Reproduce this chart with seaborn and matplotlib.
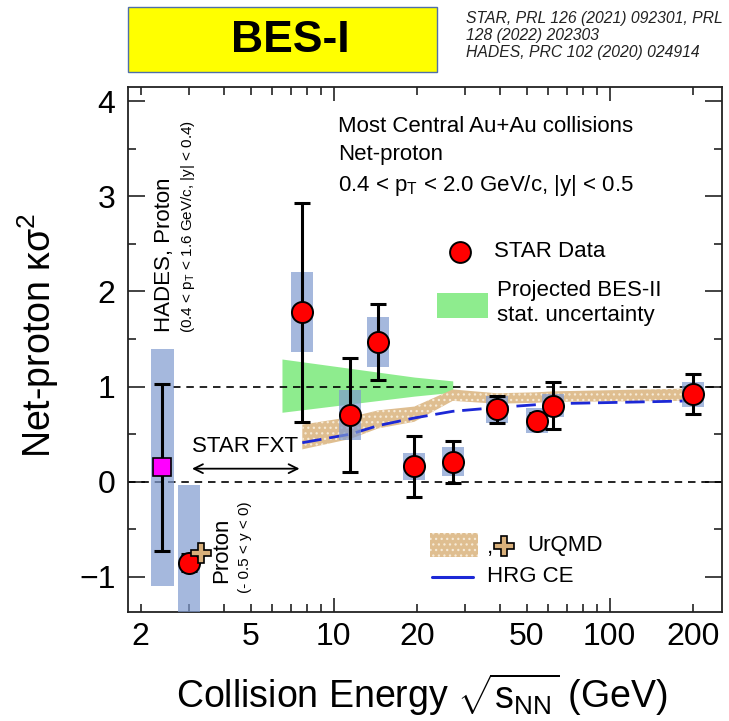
import numpy as np
import pandas as pd
import matplotlib
matplotlib.use("Agg")
import matplotlib.pyplot as plt
import matplotlib.ticker as mticker
from matplotlib.patches import Rectangle
from matplotlib.lines import Line2D
import seaborn as sns

# ---------------- data ----------------
star_energy = [3.0, 7.7, 11.5, 14.5, 19.6, 27.0, 39.0, 54.4, 62.4, 200.0]
star_kappa = [-0.85, 1.78, 0.70, 1.47, 0.16, 0.21, 0.76, 0.64, 0.80, 0.92]
star_stat = [0.09, 1.15, 0.60, 0.40, 0.32, 0.22, 0.14, 0.08, 0.25, 0.21]
star_sys = [0.82, 0.42, 0.26, 0.26, 0.14, 0.15, 0.14, 0.13, 0.12, 0.13]

hades_energy = [2.4]
hades_kappa = [0.15]
hades_stat = [0.88]
hades_sys = [1.25]

urqmd_fxt_energy = [3.3]
urqmd_fxt_kappa = [-0.75]

model_energy = [7.7, 11.5, 14.5, 19.6, 27.0, 39.0, 54.4, 62.4, 200.0]
urqmd_low = [0.34, 0.45, 0.56, 0.63, 0.85, 0.82, 0.83, 0.84, 0.85]
urqmd_high = [0.60, 0.68, 0.75, 0.79, 0.97, 0.93, 0.94, 0.95, 0.98]
hrg_ce = [0.41, 0.50, 0.59, 0.67, 0.74, 0.78, 0.81, 0.82, 0.85]

besii_energy = [6.5, 19.6, 27.0]
besii_low = [0.73, 0.90, 0.94]
besii_high = [1.29, 1.10, 1.06]

x_tick_labels = ["2", "5", "10", "20", "50", "100", "200"]
y_ticks = [-1, 0, 1, 2, 3, 4]

# ---------------- style ----------------
sns.set_theme(style="ticks")
plt.rcParams["font.family"] = ["Liberation Sans", "DejaVu Sans"]
plt.rcParams["text.color"] = "black"
plt.rcParams["axes.labelcolor"] = "black"
plt.rcParams["mathtext.fontset"] = "custom"
plt.rcParams["mathtext.rm"] = "Liberation Sans"
plt.rcParams["mathtext.it"] = "Liberation Sans:italic"
plt.rcParams["mathtext.bf"] = "Liberation Sans:bold"
plt.rcParams["hatch.linewidth"] = 0.9

fig = plt.figure(figsize=(7.29, 7.21), dpi=100)
ax = fig.add_axes([128 / 729, 1 - 612 / 721, 594 / 729, 525 / 721])
ax.set_xscale("log")
ax.set_xlim(1.8, 255)
ax.set_ylim(-1.37, 4.15)

box_color = "#7f9acf"
tan = "#dfbe90"
hatch_col = "#f6ead6"
hw = 0.04  # half width of sys boxes in decades

# BES-II projection (green)
ax.fill_between(besii_energy, besii_low, besii_high, color="#8eec8e", lw=0, zorder=1)

# UrQMD band
ax.fill_between(model_energy, urqmd_low, urqmd_high, facecolor=tan,
                edgecolor=hatch_col, hatch="...", lw=0, zorder=1.5)

# reference lines
ax.axhline(0, color="black", lw=1.2, dashes=(4.5, 3.5), zorder=2)
ax.hlines(1, 2.62, 255, color="black", lw=1.2, linestyles=(0, (4.5, 3.5)), zorder=2)

# HRG CE
hrg_df = pd.DataFrame({"energy": model_energy, "kappa": hrg_ce})
sns.lineplot(data=hrg_df, x="energy", y="kappa", ax=ax, color="#1c28d6",
             lw=2.0, dashes=False, zorder=2.5)
ax.lines[-1].set_dashes((7, 2.8))

# systematic boxes
for e, k, s in zip(star_energy + hades_energy, star_kappa + hades_kappa,
                   star_sys + hades_sys):
    x0 = e * 10 ** (-hw)
    x1 = e * 10 ** (hw)
    ax.add_patch(Rectangle((x0, k - s), x1 - x0, 2 * s, facecolor=box_color,
                           alpha=0.7, lw=0, zorder=3))

# stat error bars
ax.errorbar(star_energy, star_kappa, yerr=star_stat, fmt="none", ecolor="black",
            elinewidth=2.2, capsize=5.5, capthick=2.2, zorder=4)
ax.errorbar(hades_energy, hades_kappa, yerr=hades_stat, fmt="none", ecolor="black",
            elinewidth=2.2, capsize=5.5, capthick=2.2, zorder=4)

# markers
star_df = pd.DataFrame({"energy": star_energy, "kappa": star_kappa})
sns.scatterplot(data=star_df, x="energy", y="kappa", ax=ax, s=230, color="#ff0000",
                edgecolor="black", linewidth=1.4, zorder=5, legend=False)
ax.plot(hades_energy, hades_kappa, "s", ms=12.5, mfc="#ff00ff", mec="black", mew=1.2, zorder=5)
ax.plot(urqmd_fxt_energy, urqmd_fxt_kappa, "P", ms=15, mfc="#d9b07a", mec="black", mew=1.2, zorder=5)

# ---------------- axes / ticks ----------------
ax.set_xlabel("")
ax.set_ylabel("")
ax.xaxis.set_major_locator(mticker.FixedLocator([10, 100]))
ax.xaxis.set_minor_locator(mticker.FixedLocator(
    [2, 3, 4, 5, 6, 7, 8, 9, 20, 30, 40, 50, 60, 70, 80, 90, 200]))
lab = {float(t): t for t in x_tick_labels}
ax.xaxis.set_major_formatter(mticker.FuncFormatter(lambda v, p: lab.get(float(v), "")))
ax.xaxis.set_minor_formatter(mticker.FuncFormatter(lambda v, p: lab.get(float(v), "")))
ax.yaxis.set_major_locator(mticker.FixedLocator(y_ticks))
ax.yaxis.set_minor_locator(mticker.MultipleLocator(0.5))
ax.yaxis.set_major_formatter(mticker.FuncFormatter(
    lambda v, p: ("\u2212%d" % abs(v)) if v < 0 else "%d" % v))

ax.tick_params(axis="both", which="both", direction="in", top=True, right=True,
               colors="#222222", width=1.2)
ax.tick_params(axis="y", which="major", length=12, labelsize=23, pad=9, labelcolor="black")
ax.tick_params(axis="y", which="minor", length=6)
ax.tick_params(axis="x", which="major", length=10, labelsize=23, pad=7, labelcolor="black")
ax.tick_params(axis="x", which="minor", length=6, labelsize=23, pad=7, labelcolor="black")
for sp in ax.spines.values():
    sp.set_linewidth(1.3)
    sp.set_color("#222222")

fig.text(422 / 729, 1 - 695 / 721, r"Collision Energy $\sqrt{\mathrm{s}_{\mathrm{NN}}}$ (GeV)",
         ha="center", va="center", fontsize=27)
fig.text(38 / 729, 1 - 335 / 721, "Net-proton \u03ba\u03c3$^{2}$", rotation=90,
         ha="center", va="center", fontsize=27)

# ---------------- annotations ----------------
T = ax.transAxes
ax.text(0.354, 0.924, "Most Central Au+Au collisions", transform=T, fontsize=16,
        ha="left", va="center")
ax.text(0.354, 0.872, "Net-proton", transform=T, fontsize=16, ha="left", va="center")
ax.text(0.354, 0.813, r"0.4 < p$_{\mathrm{T}}$ < 2.0 GeV/c, |y| < 0.5", transform=T,
        fontsize=16, ha="left", va="center")

# legend 1
ax.plot([0.559], [0.686], "o", ms=15, mfc="#ff0000", mec="black", mew=1.4,
        transform=T, clip_on=False, zorder=6)
ax.text(0.616, 0.686, "STAR Data", transform=T, fontsize=16, ha="left", va="center")
ax.add_patch(Rectangle((0.520, 0.560), 0.086, 0.048, transform=T,
                       facecolor="#8eec8e", lw=0, zorder=6))
ax.text(0.621, 0.589, "Projected BES-II\nstat. uncertainty", transform=T, fontsize=16,
        ha="left", va="center", linespacing=1.25)

# legend 2
ax.add_patch(Rectangle((0.508, 0.105), 0.081, 0.045, transform=T, facecolor=tan,
                       edgecolor=hatch_col, hatch="...", lw=0, zorder=6))
ax.text(0.604, 0.122, ",", transform=T, fontsize=16, ha="left", va="center")
ax.plot([0.633], [0.126], "P", ms=15, mfc="#d9b07a", mec="black", mew=1.2,
        transform=T, clip_on=False, zorder=6)
ax.text(0.672, 0.126, "UrQMD", transform=T, fontsize=16, ha="left", va="center")
ax.add_line(Line2D([0.512, 0.581], [0.067, 0.067], transform=T, color="#1c28d6", lw=2.2))
ax.text(0.604, 0.067, "HRG CE", transform=T, fontsize=16, ha="left", va="center")

# FXT arrow
ax.annotate("", xy=(7.7, 0.137), xytext=(3.0, 0.137),
            arrowprops=dict(arrowstyle="<->", color="black", lw=1.3, mutation_scale=16))
ax.text(4.76, 0.37, "STAR FXT", fontsize=16, ha="center", va="center")

# HADES labels
ax.text(0.062, 0.533, "HADES, Proton", transform=T, rotation=90, fontsize=16,
        ha="center", va="bottom")
ax.text(0.101, 0.531, r"(0.4 < p$_{\mathrm{T}}$ < 1.6 GeV/c, |y| < 0.4)", transform=T,
        rotation=90, fontsize=11, ha="center", va="bottom")
ax.text(0.157, 0.055, "Proton", transform=T, rotation=90, fontsize=16,
        ha="center", va="bottom")
ax.text(0.197, 0.036, "(- 0.5 < y < 0)", transform=T, rotation=90, fontsize=11,
        ha="center", va="bottom")

# ---------------- header ----------------
fig.patches.append(Rectangle((128 / 729, 1 - 72 / 721), 309 / 729, 65 / 721,
                             transform=fig.transFigure, facecolor="#ffff00",
                             edgecolor="#4f6fa8", lw=1.0))
fig.text(290 / 729, 1 - 41 / 721, "BES-I", fontsize=32, fontweight="bold",
         ha="center", va="center", color="black")
fig.text(466 / 729, 1 - 11 / 721,
         "STAR, PRL 126 (2021) 092301, PRL\n128 (2022) 202303\nHADES, PRC 102 (2020) 024914",
         fontsize=11.3, style="italic", ha="left", va="top", linespacing=1.15,
         color="#222222")

fig.savefig("out.png", dpi=100)
